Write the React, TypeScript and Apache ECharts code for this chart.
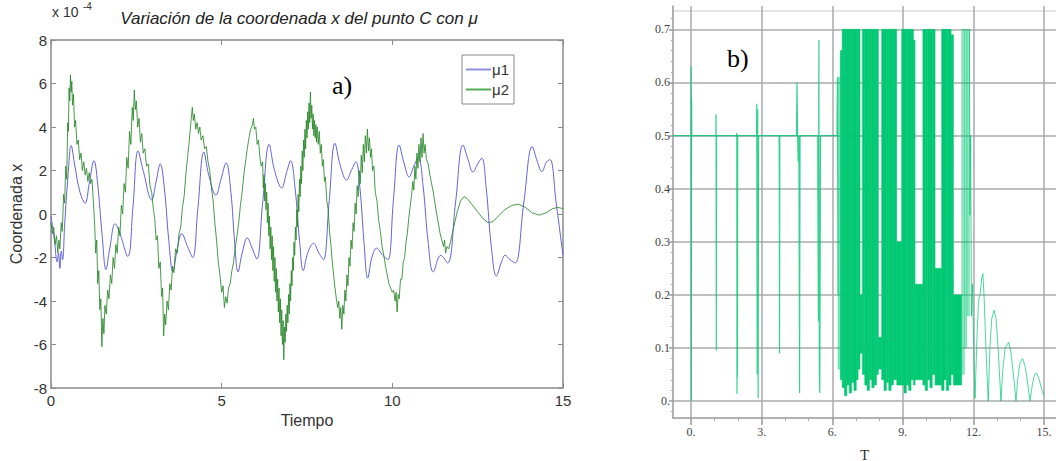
import React, { useEffect, useRef } from 'react';
import * as echarts from 'echarts';

// ---------- Panel a) ----------
const tiempoTicks = [0, 5, 10, 15];
const coordTicks = [-8, -6, -4, -2, 0, 2, 4, 6, 8];

const mu1: [number, number][] = [
  [0, -0.1], [0.1, -1.2], [0.18, -2.2], [0.22, -1.8], [0.26, -2.5], [0.3, -1.7], [0.34, -2.1], [0.4, -0.5],
  [0.5, 1.8], [0.59, 3.15], [0.7, 2.2], [0.85, 1.0], [1.0, 0.5], [1.12, 1.4], [1.26, 2.45], [1.36, 1.5],
  [1.5, -1.0], [1.61, -2.55], [1.72, -1.6], [1.88, -0.45], [2.0, -0.8], [2.25, -1.95], [2.4, 0.3], [2.55, 2.9],
  [2.7, 2.0], [2.95, 0.65], [3.08, 1.5], [3.2, 2.3], [3.32, 1.2], [3.45, -1.2], [3.57, -2.65], [3.7, -1.6],
  [3.83, -0.9], [4.0, -1.5], [4.15, -2.0], [4.3, 0.2], [4.48, 2.85], [4.62, 1.8], [4.83, 0.87], [4.98, 1.6],
  [5.13, 2.35], [5.27, 1.0], [5.38, -1.3], [5.48, -2.66], [5.6, -1.8], [5.75, -1.1], [5.9, -1.6], [6.03, -2.07],
  [6.2, 0.5], [6.39, 3.2], [6.55, 2.0], [6.76, 1.2], [6.9, 1.9], [7.02, 2.45], [7.15, 1.2], [7.28, -1.2],
  [7.39, -2.6], [7.52, -1.8], [7.69, -1.35], [7.85, -1.8], [7.98, -2.1], [8.15, 0.6], [8.32, 3.25], [8.48, 2.2],
  [8.66, 1.56], [8.8, 2.0], [8.93, 2.4], [9.05, 1.2], [9.17, -1.3], [9.28, -2.95], [9.4, -2.0], [9.54, -1.57],
  [9.72, -1.9], [9.87, -2.1], [10.03, 0.6], [10.2, 3.17], [10.35, 2.3], [10.49, 1.7], [10.63, 2.2], [10.76, 2.6],
  [10.9, 1.3], [11.05, -1.3], [11.2, -2.66], [11.42, -1.9], [11.62, -2.25], [11.85, 0.5], [12.07, 3.17], [12.22, 2.5],
  [12.36, 1.93], [12.5, 2.3], [12.62, 2.57], [12.75, 1.2], [12.9, -1.5], [13.05, -2.85], [13.2, -2.2], [13.3, -1.9],
  [13.45, -2.1], [13.6, -2.25], [13.85, 0.5], [14.1, 3.1], [14.25, 2.4], [14.38, 1.95], [14.52, 2.4], [14.62, 2.5],
  [14.8, 0.5], [15, -1.9],
];

const mu2: [number, number][] = [
  [0, -0.4], [0.04, -0.9], [0.08, -0.6], [0.12, -1.4], [0.16, -1.0], [0.2, -1.8], [0.23, -1.2], [0.26, -1.6],
  [0.3, -0.4], [0.33, -0.8], [0.37, 0.9], [0.4, 0.5], [0.43, 2.2], [0.46, 1.6], [0.49, 4.2], [0.51, 3.8],
  [0.53, 5.8], [0.55, 5.2], [0.57, 6.4], [0.59, 5.6], [0.61, 6.1], [0.63, 5.0], [0.66, 5.5], [0.69, 4.0],
  [0.72, 4.3], [0.76, 3.2], [0.8, 3.4], [0.84, 2.5], [0.88, 2.8], [0.92, 2.0], [0.96, 2.4], [1.0, 1.8],
  [1.04, 2.1], [1.08, 1.5], [1.12, 1.9], [1.16, 1.4], [1.2, 1.6], [1.24, 0.6], [1.28, -0.5], [1.31, -1.8],
  [1.34, -1.2], [1.37, -3.2], [1.4, -2.6], [1.43, -4.4], [1.46, -3.9], [1.49, -6.1], [1.52, -4.8], [1.55, -5.5],
  [1.58, -4.2], [1.62, -4.6], [1.66, -3.5], [1.7, -3.9], [1.74, -2.8], [1.78, -3.2], [1.82, -2.0], [1.86, -2.5],
  [1.9, -1.4], [1.94, -1.8], [1.98, -0.6], [2.02, -1.0], [2.06, 0.4], [2.1, 0.0], [2.14, 1.4], [2.18, 1.0],
  [2.22, 2.6], [2.26, 2.1], [2.3, 3.8], [2.34, 3.2], [2.38, 4.9], [2.41, 4.3], [2.44, 5.7], [2.47, 4.8],
  [2.5, 5.2], [2.54, 4.0], [2.58, 4.4], [2.62, 3.3], [2.66, 3.7], [2.7, 2.8], [2.75, 3.0], [2.8, 2.2],
  [2.85, 2.3], [2.9, 1.3], [2.95, 1.0], [3.0, 0.2], [3.04, -0.2], [3.08, -1.2], [3.12, -1.0], [3.16, -2.5],
  [3.2, -2.2], [3.24, -3.8], [3.27, -3.4], [3.3, -5.6], [3.33, -4.6], [3.36, -5.1], [3.4, -4.0], [3.44, -4.4],
  [3.48, -3.2], [3.52, -3.5], [3.56, -2.4], [3.6, -2.7], [3.65, -1.6], [3.7, -1.8], [3.75, -0.9], [3.8, -0.6],
  [3.85, 0.3], [3.9, 0.8], [3.95, 1.8], [4.0, 2.6], [4.04, 3.2], [4.08, 3.9], [4.11, 4.4], [4.14, 4.9],
  [4.17, 4.3], [4.2, 4.6], [4.24, 3.9], [4.28, 4.2], [4.32, 3.7], [4.36, 4.0], [4.4, 3.4], [4.45, 3.6],
  [4.5, 3.0], [4.55, 3.1], [4.6, 2.4], [4.65, 2.0], [4.7, 1.2], [4.75, 0.6], [4.8, -0.4], [4.85, -1.2],
  [4.9, -2.2], [4.95, -2.8], [5.0, -3.6], [5.04, -3.3], [5.08, -4.3], [5.12, -3.8], [5.16, -4.1], [5.2, -3.4],
  [5.25, -3.2], [5.3, -2.6], [5.35, -2.2], [5.4, -1.5], [5.45, -1.0], [5.5, -0.4], [5.55, 0.4], [5.6, 1.0],
  [5.65, 1.8], [5.7, 2.4], [5.75, 3.0], [5.8, 3.5], [5.85, 3.9], [5.9, 4.1], [5.93, 4.4], [5.96, 3.9],
  [6.0, 4.0], [6.04, 3.2], [6.08, 3.4], [6.12, 2.6], [6.16, 2.2],
  [6.2, 2.4], [6.22, 1.2], [6.24, 1.8], [6.26, 0.6], [6.28, 1.4], [6.3, 0.2], [6.32, 1.0], [6.34, -0.4],
  [6.36, 0.5], [6.38, -1.0], [6.4, -0.1], [6.42, -1.6], [6.44, -0.6], [6.46, -2.1], [6.48, -1.0], [6.5, -2.6],
  [6.52, -1.5], [6.54, -3.1], [6.56, -2.0], [6.58, -3.6], [6.6, -2.5], [6.62, -4.0], [6.64, -3.0], [6.66, -4.5],
  [6.68, -3.4], [6.7, -5.0], [6.72, -3.9], [6.74, -5.6], [6.76, -4.4], [6.78, -6.0], [6.8, -4.9], [6.82, -6.7],
  [6.84, -5.2], [6.86, -5.9], [6.88, -4.6], [6.9, -5.4], [6.92, -4.2], [6.94, -5.0], [6.96, -3.7], [6.98, -4.6],
  [7.0, -3.2], [7.02, -4.0], [7.04, -2.6], [7.06, -3.3], [7.08, -2.0], [7.1, -2.6], [7.12, -1.3], [7.14, -1.9],
  [7.16, -0.6], [7.18, -1.2], [7.2, 0.2], [7.22, -0.6], [7.24, 0.9], [7.26, 0.1], [7.28, 1.6], [7.3, 0.8],
  [7.32, 2.2], [7.34, 1.4], [7.36, 2.9], [7.38, 2.0], [7.4, 3.4], [7.42, 2.6], [7.44, 3.9], [7.46, 3.0],
  [7.48, 4.3], [7.5, 3.5], [7.52, 4.7], [7.54, 3.9], [7.56, 5.1], [7.58, 4.2], [7.6, 5.6], [7.62, 4.4],
  [7.64, 5.0], [7.66, 3.9], [7.68, 4.6], [7.7, 3.6], [7.72, 4.3], [7.74, 3.5], [7.76, 4.1], [7.78, 3.3],
  [7.8, 4.0], [7.83, 3.2], [7.86, 3.8], [7.89, 2.8], [7.92, 3.2], [7.95, 2.2], [7.98, 2.5], [8.01, 1.5],
  [8.04, 1.7], [8.08, 0.6], [8.12, 0.2], [8.16, -0.8], [8.2, -1.4], [8.24, -2.2], [8.28, -2.8], [8.32, -3.4],
  [8.36, -3.9], [8.4, -4.3], [8.43, -4.0], [8.46, -4.8], [8.49, -4.3], [8.52, -5.3], [8.55, -4.2], [8.58, -4.6],
  [8.61, -3.5], [8.64, -4.0], [8.67, -2.8], [8.7, -3.3], [8.73, -2.0], [8.76, -2.4], [8.79, -1.2], [8.82, -1.6],
  [8.85, -0.4], [8.88, -0.8], [8.91, 0.5], [8.94, 0.0], [8.97, 1.3], [9.0, 0.8], [9.03, 2.0], [9.06, 1.4],
  [9.09, 2.7], [9.12, 1.9], [9.15, 3.2], [9.18, 2.4], [9.21, 3.6], [9.24, 2.8], [9.27, 3.9], [9.3, 2.9],
  [9.33, 3.5], [9.36, 2.6], [9.39, 3.0], [9.42, 2.0], [9.46, 2.2], [9.5, 1.0], [9.55, 0.6], [9.6, -0.3],
  [9.65, -0.8], [9.7, -1.5], [9.75, -1.9], [9.8, -2.4], [9.85, -2.8], [9.9, -3.2], [9.95, -3.4], [10.0, -3.6],
  [10.04, -3.5], [10.08, -4.0], [10.11, -3.6], [10.14, -4.5], [10.17, -3.7], [10.2, -3.9], [10.24, -3.0], [10.28, -3.0],
  [10.32, -2.2], [10.36, -2.0], [10.4, -1.3], [10.44, -0.9], [10.48, -0.2], [10.52, 0.3], [10.56, 0.8], [10.6, 1.5],
  [10.63, 1.1], [10.66, 2.2], [10.69, 1.6], [10.72, 2.8], [10.75, 2.1], [10.78, 3.2], [10.81, 2.4], [10.84, 3.5],
  [10.87, 2.6], [10.9, 3.7], [10.93, 2.8], [10.96, 3.2], [11.0, 2.5], [11.05, 2.3], [11.1, 1.8], [11.2, 1.0],
  [11.3, 0.0], [11.4, -0.9], [11.45, -1.2], [11.5, -1.5], [11.53, -1.2], [11.56, -1.8], [11.6, -1.5], [11.65, -1.6],
  [11.7, -1.3], [11.8, -0.6], [11.9, 0.1], [12.0, 0.6], [12.1, 0.8], [12.2, 0.7], [12.35, 0.4], [12.5, 0.1],
  [12.65, -0.2], [12.8, -0.4], [12.95, -0.35], [13.1, -0.1], [13.3, 0.2], [13.5, 0.4], [13.7, 0.45], [13.9, 0.3],
  [14.1, 0.05], [14.3, -0.05], [14.5, 0.05], [14.7, 0.25], [14.85, 0.3], [15, 0.25],
];

// ---------- Panel b) ----------
const bTicksX = [0, 3, 6, 9, 12, 15];
const bMinorX = [1, 2, 4, 5, 7, 8, 10, 11, 13, 14];
const bTicksY = [0, 0.1, 0.2, 0.3, 0.4, 0.5, 0.6, 0.7];
const bMinorY = [-0.02, 0.02, 0.04, 0.06, 0.08, 0.12, 0.14, 0.16, 0.18, 0.22, 0.24, 0.26, 0.28, 0.32, 0.34, 0.36, 0.38,
  0.42, 0.44, 0.46, 0.48, 0.52, 0.54, 0.56, 0.58, 0.62, 0.64, 0.66, 0.68, 0.72];

const bSignal: [number, number][] = [
  [-0.77, 0.5], [0, 0.5], [0, 0.63], [0.01, 0.0], [0.02, 0.57], [0.03, 0.5],
  [1.05, 0.5], [1.06, 0.54], [1.07, 0.095], [1.08, 0.5],
  [1.93, 0.5], [1.94, 0.505], [1.95, 0.013], [1.96, 0.48], [1.97, 0.045], [1.98, 0.5],
  [2.78, 0.5], [2.79, 0.56], [2.8, 0.3], [2.81, 0.05], [2.83, 0.55], [2.85, 0.005], [2.87, 0.5],
  [3.74, 0.5], [3.75, 0.38], [3.76, 0.09], [3.77, 0.5],
  [4.48, 0.5], [4.5, 0.6], [4.52, 0.52], [4.55, 0.45], [4.58, 0.5], [4.61, 0.015], [4.63, 0.5],
  [5.38, 0.5], [5.41, 0.15], [5.43, 0.68], [5.45, 0.06], [5.47, 0.015], [5.5, 0.5],
  [6.2, 0.5], [6.22, 0.61], [6.25, 0.2],
];

// columns of the dense band: [tStart, tEnd, low, high]
const bDense: [number, number, number, number][] = [
  [6.34, 6.42, 0.04, 0.66], [6.42, 6.52, 0.025, 0.7], [6.52, 6.62, 0.01, 0.7], [6.62, 6.72, 0.03, 0.7],
  [6.72, 6.82, 0.015, 0.7], [6.82, 6.92, 0.035, 0.7], [6.92, 7.02, 0.02, 0.7], [7.02, 7.1, 0.04, 0.7],
  [7.1, 7.18, 0.06, 0.7], [7.18, 7.28, 0.09, 0.2],
  [7.28, 7.38, 0.05, 0.7], [7.38, 7.48, 0.03, 0.7], [7.48, 7.58, 0.02, 0.7], [7.58, 7.68, 0.04, 0.7],
  [7.68, 7.78, 0.025, 0.7], [7.78, 7.88, 0.03, 0.7], [7.88, 7.96, 0.05, 0.7], [7.96, 8.1, 0.06, 0.12],
  [8.1, 8.2, 0.04, 0.7], [8.2, 8.3, 0.02, 0.7], [8.3, 8.4, 0.035, 0.7], [8.4, 8.5, 0.02, 0.7],
  [8.5, 8.6, 0.03, 0.7], [8.6, 8.74, 0.04, 0.7], [8.74, 8.95, 0.03, 0.3],
  [8.95, 9.05, 0.03, 0.7], [9.05, 9.15, 0.015, 0.7], [9.15, 9.25, 0.03, 0.7], [9.25, 9.35, 0.02, 0.7],
  [9.35, 9.45, 0.04, 0.7], [9.45, 9.52, 0.03, 0.68], [9.52, 9.85, 0.04, 0.22],
  [9.85, 9.95, 0.03, 0.7], [9.95, 10.05, 0.02, 0.7], [10.05, 10.15, 0.04, 0.7], [10.15, 10.25, 0.025, 0.7],
  [10.25, 10.37, 0.05, 0.7], [10.37, 10.65, 0.03, 0.25],
  [10.65, 10.75, 0.02, 0.7], [10.75, 10.85, 0.04, 0.7], [10.85, 10.95, 0.02, 0.7], [10.95, 11.05, 0.03, 0.7],
  [11.05, 11.15, 0.05, 0.69], [11.15, 11.5, 0.03, 0.2],
];

const bLight: [number, number, number, number][] = [
  [6.24, 6.34, 0.06, 0.61], [11.5, 11.62, 0.05, 0.7], [11.62, 11.72, 0.1, 0.7], [11.72, 11.84, 0.16, 0.7],
];

const bTail: [number, number][] = [
  [11.83, 0.7], [11.85, 0.35], [11.88, 0.5], [11.92, 0.16], [11.96, 0.22], [12.0, 0.12], [12.07, 0.005],
  [12.15, 0.12], [12.22, 0.19], [12.28, 0.2], [12.35, 0.23], [12.4, 0.24], [12.45, 0.2], [12.53, 0.1],
  [12.63, 0.0], [12.7, 0.1], [12.78, 0.155], [12.88, 0.171], [12.96, 0.155], [13.05, 0.1], [13.17, 0.0],
  [13.25, 0.06], [13.35, 0.1], [13.5, 0.111], [13.6, 0.09], [13.7, 0.05], [13.81, 0.0], [13.88, 0.04],
  [13.98, 0.072], [14.09, 0.08], [14.2, 0.065], [14.3, 0.035], [14.41, 0.0], [14.5, 0.03], [14.6, 0.05],
  [14.69, 0.053], [14.8, 0.04], [14.9, 0.022], [15.0, 0.01],
];

const SANS = 'Liberation Sans, Arial, sans-serif';
const SERIF = 'Liberation Serif, Times New Roman, serif';
const BGREEN = '#00c873';

const colRender = (fill: string) => (params: any, api: any) => {
  const a = api.coord([api.value(0), api.value(3)]);
  const b = api.coord([api.value(1), api.value(2)]);
  return {
    type: 'rect',
    shape: { x: a[0], y: a[1], width: b[0] - a[0], height: b[1] - a[1] },
    style: { fill, stroke: fill, lineWidth: 0.5 },
  };
};

export default function App() {
  const ref = useRef<HTMLDivElement>(null);
  useEffect(() => {
    document.body.style.margin = '0';
    const chart = echarts.init(ref.current!, null, { renderer: 'svg' });
    const axisGray = '#8a8a8a';
    const boxAxis = (extra: any) => ({
      type: 'value',
      axisLine: { onZero: false, lineStyle: { color: axisGray, width: 1.5 } },
      axisTick: { inside: true, length: 5, lineStyle: { color: axisGray } },
      splitLine: { show: false },
      ...extra,
    });
    chart.setOption({
      animation: false,
      backgroundColor: '#ffffff',
      grid: [
        { left: 51, top: 40, width: 512, height: 348, outerBoundsMode: 'none', containLabel: false },
        { left: 673, top: 6, width: 383, height: 412, outerBoundsMode: 'none', containLabel: false },
      ],
      legend: {
        data: ['μ1', 'μ2'],
        orient: 'vertical',
        left: 462,
        top: 55,
        padding: [7, 5, 7, 4],
        itemGap: 5,
        itemWidth: 25,
        itemHeight: 2,
        icon: 'rect',
        borderColor: '#888',
        borderWidth: 1,
        backgroundColor: '#fff',
        textStyle: { fontFamily: SANS, fontSize: 15, color: '#333', padding: [0, 0, 0, -4] },
      },
      graphic: [
        {
          type: 'text', x: 299, y: 18,
          style: {
            text: 'Variación de la coordenada x del punto C con μ', fontFamily: SANS, fontStyle: 'italic',
            fontSize: 17, fill: '#222', align: 'center', verticalAlign: 'middle',
          },
        },
        { type: 'text', x: 52, y: 12, style: { text: 'x 10', fontFamily: SANS, fontSize: 14, fill: '#333', verticalAlign: 'middle' } },
        { type: 'text', x: 83, y: 6, style: { text: '-4', fontFamily: SANS, fontSize: 10, fill: '#333', verticalAlign: 'middle' } },
        { type: 'text', x: 332, y: 85, style: { text: 'a)', fontFamily: SERIF, fontSize: 26, fill: '#000', verticalAlign: 'middle' } },
        { type: 'text', x: 727, y: 58, style: { text: 'b)', fontFamily: SERIF, fontSize: 26, fill: '#000', verticalAlign: 'middle' } },
        { type: 'line', shape: { x1: 673, y1: 11, x2: 1056, y2: 11 }, style: { stroke: '#cccccc', lineWidth: 1 } },
      ],
      xAxis: [
        boxAxis({
          gridIndex: 0, min: 0, max: 15, interval: 5,
          name: 'Tiempo', nameLocation: 'middle', nameGap: 23,
          nameTextStyle: { fontFamily: SANS, fontSize: 16, color: '#333' },
          axisLabel: { fontFamily: SANS, fontSize: 15, color: '#333', margin: 5 },
        }),
        boxAxis({
          gridIndex: 0, min: 0, max: 15, interval: 5, position: 'top',
          axisLabel: { show: false },
        }),
        {
          gridIndex: 1, type: 'value', min: -0.77, max: 15.51, position: 'bottom',
          name: 'T', nameLocation: 'middle', nameGap: 29,
          nameTextStyle: { fontFamily: SERIF, fontSize: 15, color: '#333' },
          axisLine: { onZero: false, lineStyle: { color: '#999', width: 1.5 } },
          axisTick: { customValues: bTicksX, length: 7, lineStyle: { color: '#999', width: 1.5 } },
          axisLabel: {
            customValues: bTicksX, fontFamily: SERIF, fontSize: 12, color: '#444', margin: 8,
            formatter: (v: number) => v + '.',
          },
          splitLine: { show: true, lineStyle: { color: '#aaaaaa', width: 1.5 } },
        },
        {
          gridIndex: 1, type: 'value', min: -0.77, max: 15.51, position: 'bottom',
          axisLine: { show: false, onZero: false },
          axisTick: { customValues: bMinorX, length: 3, lineStyle: { color: '#aaa' } },
          axisLabel: { show: false }, splitLine: { show: false },
        },
      ],
      yAxis: [
        boxAxis({
          gridIndex: 0, min: -8, max: 8, interval: 2,
          name: 'Coordenada x', nameLocation: 'middle', nameGap: 27, nameRotate: 90,
          nameTextStyle: { fontFamily: SANS, fontSize: 16, color: '#333' },
          axisLabel: { fontFamily: SANS, fontSize: 15, color: '#333', margin: 4 },
        }),
        boxAxis({
          gridIndex: 0, min: -8, max: 8, interval: 2, position: 'right',
          axisLabel: { show: false },
        }),
        {
          gridIndex: 1, type: 'value', min: -0.032, max: 0.744, position: 'left',
          axisLine: { show: true, onZero: false, lineStyle: { color: '#999', width: 1.5 } },
          axisTick: { show: true, customValues: bTicksY, length: 4, lineStyle: { color: '#999', width: 1.5 } },
          axisLabel: {
            customValues: bTicksY, fontFamily: SERIF, fontSize: 12, color: '#444', margin: 3,
            formatter: (v: number) => (v === 0 ? '0.' : v.toFixed(1)),
          },
          splitLine: { show: true, lineStyle: { color: '#aaaaaa', width: 1.5 } },
        },
        {
          gridIndex: 1, type: 'value', min: -0.032, max: 0.744, position: 'left',
          axisLine: { show: false, onZero: false },
          axisTick: { show: true, customValues: bMinorY, length: 2, lineStyle: { color: '#aaa' } },
          axisLabel: { show: false }, splitLine: { show: false },
        },
      ],
      series: [
        {
          name: 'μ1', type: 'line', xAxisIndex: 0, yAxisIndex: 0, data: mu1, smooth: 0.4,
          showSymbol: false, symbol: 'none', color: '#8f8fe6',
          lineStyle: { color: '#6262d8', width: 1 },
        },
        {
          name: 'μ2', type: 'line', xAxisIndex: 0, yAxisIndex: 0, data: mu2,
          showSymbol: false, symbol: 'none', color: '#55aa55',
          lineStyle: { color: '#2a882a', width: 1, opacity: 0.85 },
        },
        {
          name: 'b-signal', type: 'line', xAxisIndex: 2, yAxisIndex: 2, data: bSignal,
          showSymbol: false, symbol: 'none', lineStyle: { color: BGREEN, width: 1.2, opacity: 0.8 },
        },
        {
          name: 'b-light', type: 'custom', xAxisIndex: 2, yAxisIndex: 2, data: bLight,
          encode: { x: [0, 1], y: [2, 3] }, renderItem: colRender('rgba(0,200,115,0.45)'),
        },
        {
          name: 'b-dense', type: 'custom', xAxisIndex: 2, yAxisIndex: 2, data: bDense,
          encode: { x: [0, 1], y: [2, 3] }, renderItem: colRender(BGREEN),
        },
        {
          name: 'b-tail', type: 'line', xAxisIndex: 2, yAxisIndex: 2, data: bTail,
          showSymbol: false, symbol: 'none', lineStyle: { color: BGREEN, width: 1, opacity: 0.7 },
        },
      ],
    });
    return () => chart.dispose();
  }, []);
  return <div ref={ref} style={{ width: 1056, height: 461 }} />;
}
